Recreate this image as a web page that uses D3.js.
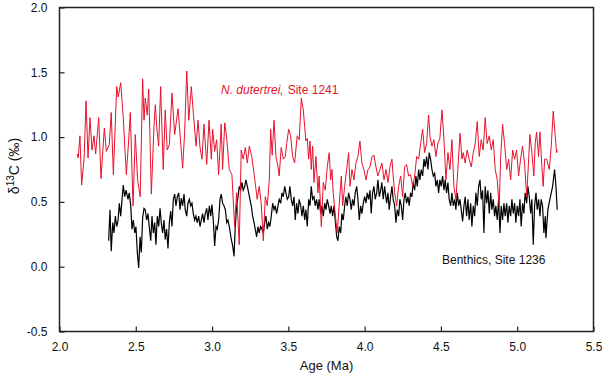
<!DOCTYPE html>
<html>
<head>
<meta charset="utf-8">
<script src="https://cdn.jsdelivr.net/npm/d3@7"></script>
<style>
  body { margin: 0; background: #fff; }
  svg text { font-family: "Liberation Sans", Arial, sans-serif; }
</style>
</head>
<body>
<div id="chart"></div>
<script>
// N. dutertrei, Site 1241 (age in Ma, d13C in permil)
const redAge = [2.115,2.123,2.134,2.145,2.161,2.174,2.187,2.200,2.213,2.226,2.237,2.257,2.272,2.294,2.307,2.326,2.339,2.353,2.375,2.385,
  2.401,2.418,2.438,2.453,2.464,2.482,2.497,2.512,2.529,2.545,2.554,2.562,2.575,2.585,2.602,2.619,2.628,2.637,2.650,2.663,
  2.680,2.693,2.706,2.720,2.737,2.755,2.777,2.807,2.820,2.834,2.847,2.864,2.877,2.895,2.908,2.921,2.934,2.947,2.965,2.980,
  2.995,3.004,3.017,3.030,3.043,3.060,3.069,3.083,3.096,3.113,3.130,3.148,3.161,3.178,3.191,3.204,3.218,3.231,3.244,3.260,
  3.275,3.296,3.309,3.322,3.336,3.349,3.362,3.375,3.384,3.394,3.406,3.419,3.432,3.440,3.453,3.467,3.480,3.489,3.502,3.515,
  3.528,3.541,3.558,3.571,3.585,3.598,3.607,3.615,3.624,3.633,3.642,3.650,3.659,3.668,3.681,3.694,3.702,3.716,3.729,3.742,
  3.755,3.768,3.777,3.786,3.794,3.807,3.820,3.834,3.847,3.856,3.869,3.882,3.895,3.904,3.917,3.930,3.943,3.956,3.969,3.982,
  3.995,4.009,4.022,4.035,4.048,4.061,4.074,4.087,4.100,4.113,4.127,4.140,4.153,4.166,4.179,4.187,4.197,4.210,4.223,4.236,
  4.249,4.262,4.275,4.288,4.301,4.315,4.328,4.341,4.354,4.367,4.380,4.393,4.406,4.419,4.428,4.441,4.454,4.467,4.480,4.493,
  4.507,4.520,4.533,4.546,4.559,4.572,4.585,4.598,4.611,4.625,4.638,4.646,4.659,4.672,4.685,4.699,4.712,4.725,4.738,4.751,
  4.764,4.777,4.790,4.803,4.817,4.830,4.843,4.856,4.869,4.882,4.891,4.904,4.917,4.931,4.944,4.957,4.970,4.983,4.996,5.009,
  5.022,5.035,5.048,5.062,5.075,5.083,5.096,5.109,5.118,5.127,5.140,5.149,5.162,5.170,5.180,5.193,5.210,5.223,5.236,5.249,
  5.258,5.262];
const redD13C = [0.87,0.84,1.01,0.63,0.83,1.28,0.84,1.15,0.90,1.01,0.87,1.15,0.68,1.07,0.89,0.94,1.19,0.71,1.39,1.31,
  1.42,1.15,0.71,0.97,1.19,0.47,1.02,0.67,0.54,1.45,1.13,1.30,1.17,1.37,0.56,1.08,1.25,1.08,0.93,1.39,
  0.75,1.21,0.90,0.94,1.34,1.02,1.22,0.76,1.03,1.51,1.13,1.39,1.19,0.93,1.13,0.92,0.83,1.10,0.79,1.13,
  0.83,1.06,0.89,0.98,0.71,1.10,0.75,1.11,0.99,0.75,0.71,0.31,0.57,0.17,0.90,0.83,0.92,0.80,0.93,0.85,
  0.72,0.52,0.62,0.49,0.20,0.54,0.47,0.67,1.06,0.86,1.13,0.85,0.77,0.70,0.92,0.83,0.85,0.95,1.06,1.01,
  0.85,0.80,1.01,0.98,1.30,1.21,1.08,0.97,0.99,0.83,0.97,0.75,0.93,0.65,0.85,0.57,0.70,0.31,0.65,0.59,
  0.77,0.88,0.67,0.75,0.57,0.41,0.26,0.49,0.70,0.47,0.62,0.75,0.88,0.62,0.75,0.67,0.80,0.85,0.97,0.80,
  0.75,0.67,0.75,0.77,0.85,0.86,0.77,0.70,0.75,0.80,0.67,0.75,0.65,0.77,0.83,0.70,0.57,0.47,0.62,0.70,
  0.54,0.77,0.79,0.70,0.71,0.62,0.70,0.85,0.83,0.95,1.06,0.88,0.95,1.17,1.01,0.93,0.98,0.85,0.95,0.99,
  1.21,0.98,0.67,0.88,0.75,0.98,0.62,0.52,0.75,1.03,0.83,0.88,0.80,0.90,0.83,0.77,0.88,0.95,1.12,0.85,
  0.98,0.90,1.15,0.95,1.01,0.90,0.98,0.75,0.67,0.47,0.83,1.10,0.95,0.75,0.83,0.67,0.90,0.83,0.90,0.70,
  0.83,0.93,0.80,0.54,0.83,1.02,0.88,0.70,0.95,1.04,0.85,1.04,0.77,0.62,0.83,0.83,0.75,0.93,1.20,1.01,
  0.88,0.90];

// Benthics, Site 1236
const benAge = [2.322,2.331,2.339,2.349,2.357,2.366,2.375,2.383,2.392,2.401,2.410,2.418,2.427,2.436,2.449,2.457,2.467,2.475,2.484,2.493,
  2.501,2.510,2.519,2.528,2.536,2.545,2.554,2.562,2.571,2.580,2.588,2.598,2.606,2.615,2.624,2.632,2.641,2.650,2.659,2.667,
  2.676,2.685,2.693,2.702,2.711,2.720,2.729,2.737,2.746,2.755,2.763,2.772,2.781,2.790,2.798,2.807,2.816,2.824,2.834,2.842,
  2.851,2.860,2.868,2.877,2.886,2.894,2.903,2.912,2.921,2.929,2.938,2.947,2.955,2.965,2.973,2.982,2.991,2.999,3.008,3.017,
  3.026,3.034,3.043,3.052,3.060,3.069,3.078,3.087,3.096,3.104,3.113,3.126,3.135,3.144,3.152,3.161,3.170,3.178,3.187,3.196,
  3.204,3.214,3.222,3.231,3.240,3.248,3.257,3.266,3.275,3.283,3.292,3.301,3.309,3.318,3.327,3.336,3.345,3.353,3.362,3.371,
  3.379,3.388,3.397,3.406,3.414,3.423,3.432,3.440,3.450,3.458,3.467,3.476,3.484,3.493,3.502,3.510,3.519,3.528,3.537,3.545,
  3.554,3.563,3.571,3.581,3.589,3.598,3.607,3.615,3.624,3.633,3.642,3.650,3.659,3.668,3.676,3.685,3.694,3.702,3.712,3.720,
  3.729,3.738,3.746,3.755,3.764,3.773,3.781,3.790,3.799,3.807,3.817,3.825,3.834,3.843,3.851,3.860,3.869,3.877,3.886,3.895,
  3.904,3.912,3.921,3.930,3.938,3.948,3.956,3.965,3.974,3.982,3.991,4.000,4.009,4.017,4.026,4.035,4.043,4.052,4.061,4.069,
  4.079,4.087,4.096,4.105,4.113,4.122,4.131,4.144,4.153,4.161,4.170,4.179,4.187,4.197,4.205,4.214,4.223,4.231,4.240,4.249,
  4.258,4.266,4.275,4.284,4.292,4.301,4.310,4.318,4.328,4.336,4.345,4.354,4.362,4.371,4.380,4.389,4.397,4.406,4.415,4.423,
  4.432,4.441,4.450,4.459,4.467,4.476,4.485,4.493,4.502,4.511,4.520,4.528,4.537,4.546,4.554,4.564,4.572,4.581,4.590,4.598,
  4.607,4.616,4.625,4.633,4.642,4.651,4.659,4.668,4.677,4.685,4.695,4.703,4.712,4.721,4.729,4.738,4.747,4.756,4.764,4.773,
  4.782,4.790,4.800,4.808,4.817,4.826,4.834,4.843,4.852,4.860,4.869,4.878,4.887,4.895,4.904,4.913,4.921,4.931,4.939,4.948,
  4.957,4.965,4.974,4.983,4.991,5.000,5.009,5.018,5.026,5.035,5.044,5.052,5.062,5.070,5.079,5.088,5.096,5.105,5.114,5.123,
  5.131,5.140,5.149,5.157,5.166,5.175,5.184,5.188,5.201,5.214,5.232,5.245,5.254,5.262];
const benD13C = [0.20,0.44,0.12,0.34,0.26,0.39,0.31,0.35,0.49,0.39,0.52,0.63,0.54,0.59,0.52,0.57,0.47,0.29,0.36,0.26,
  0.31,0.11,-0.01,0.23,0.11,0.38,0.45,0.44,0.36,0.41,0.31,0.20,0.39,0.26,0.34,0.17,0.39,0.31,0.45,0.34,
  0.26,0.36,0.21,0.29,0.14,0.34,0.43,0.31,0.52,0.56,0.47,0.54,0.57,0.44,0.53,0.47,0.56,0.44,0.39,0.49,
  0.52,0.47,0.49,0.41,0.36,0.39,0.34,0.39,0.31,0.36,0.41,0.34,0.41,0.45,0.36,0.47,0.39,0.48,0.36,0.16,
  0.31,0.29,0.36,0.52,0.56,0.49,0.47,0.44,0.34,0.36,0.31,0.21,0.16,0.08,0.31,0.47,0.54,0.62,0.59,0.65,
  0.59,0.62,0.67,0.62,0.57,0.52,0.47,0.39,0.34,0.29,0.23,0.31,0.26,0.31,0.29,0.26,0.34,0.39,0.29,0.34,
  0.31,0.39,0.49,0.44,0.47,0.41,0.47,0.52,0.49,0.57,0.54,0.62,0.57,0.52,0.54,0.62,0.52,0.47,0.54,0.36,
  0.49,0.41,0.52,0.47,0.39,0.47,0.36,0.44,0.31,0.52,0.47,0.62,0.52,0.54,0.47,0.52,0.44,0.52,0.41,0.47,
  0.39,0.49,0.44,0.52,0.47,0.41,0.47,0.39,0.47,0.36,0.23,0.20,0.31,0.26,0.41,0.36,0.47,0.54,0.47,0.57,
  0.52,0.44,0.52,0.47,0.57,0.62,0.52,0.36,0.47,0.41,0.49,0.54,0.49,0.57,0.52,0.59,0.41,0.57,0.62,0.52,
  0.57,0.67,0.54,0.59,0.65,0.52,0.62,0.49,0.57,0.44,0.54,0.62,0.52,0.47,0.34,0.44,0.39,0.52,0.47,0.36,
  0.52,0.57,0.49,0.54,0.47,0.57,0.54,0.65,0.59,0.70,0.62,0.75,0.67,0.75,0.70,0.83,0.77,0.85,0.75,0.88,
  0.83,0.75,0.70,0.72,0.62,0.67,0.57,0.67,0.62,0.70,0.59,0.67,0.57,0.65,0.52,0.47,0.57,0.47,0.52,0.44,
  0.57,0.47,0.52,0.44,0.35,0.47,0.54,0.39,0.52,0.36,0.49,0.31,0.47,0.39,0.57,0.47,0.62,0.67,0.52,0.59,
  0.26,0.62,0.49,0.59,0.41,0.57,0.44,0.52,0.39,0.47,0.36,0.52,0.26,0.47,0.36,0.49,0.39,0.49,0.34,0.47,
  0.39,0.52,0.41,0.49,0.34,0.47,0.39,0.52,0.31,0.49,0.41,0.57,0.49,0.62,0.54,0.41,0.52,0.17,0.47,0.57,
  0.44,0.52,0.39,0.52,0.47,0.26,0.39,0.22,0.44,0.52,0.62,0.75,0.62,0.44];

const xTicks = [2.0, 2.5, 3.0, 3.5, 4.0, 4.5, 5.0, 5.5];
const yTicks = [-0.5, 0.0, 0.5, 1.0, 1.5, 2.0];

const width = 602, height = 378;
const margin = {top: 7.5, right: 8.5, bottom: 46.5, left: 59.5};
const red = "#e8112d";

const svg = d3.select("#chart").append("svg")
  .attr("width", width)
  .attr("height", height);

const x = d3.scaleLinear().domain([2.0, 5.5]).range([margin.left, width - margin.right]);
const y = d3.scaleLinear().domain([-0.5, 2.0]).range([height - margin.bottom, margin.top]);

const fmt = d => d.toFixed(1); // plain hyphen for negatives

// axes, ticks pointing inward
const xAxis = svg.append("g")
  .attr("transform", `translate(0,${height - margin.bottom})`)
  .call(d3.axisBottom(x).tickValues(xTicks).tickFormat(fmt).tickSize(-5).tickPadding(11));
const yAxis = svg.append("g")
  .attr("transform", `translate(${margin.left},0)`)
  .call(d3.axisLeft(y).tickValues(yTicks).tickFormat(fmt).tickSize(-5).tickPadding(12));

[xAxis, yAxis].forEach(g => {
  g.select(".domain").remove();
  g.selectAll("line").attr("stroke", "#222").attr("stroke-width", 1.2);
  g.selectAll("text").attr("font-size", 12).attr("fill", "#111")
    .attr("font-family", "Liberation Sans, Arial, sans-serif");
});

const line = d3.line().x(d => x(d[0])).y(d => y(d[1]));

svg.append("path")
  .datum(benAge.map((a, i) => [a, benD13C[i]]))
  .attr("fill", "none")
  .attr("stroke", "#000")
  .attr("stroke-width", 1.2)
  .attr("d", line);

svg.append("path")
  .datum(redAge.map((a, i) => [a, redD13C[i]]))
  .attr("fill", "none")
  .attr("stroke", red)
  .attr("stroke-width", 1)
  .attr("d", line);

// frame
svg.append("rect")
  .attr("x", margin.left)
  .attr("y", margin.top)
  .attr("width", width - margin.left - margin.right)
  .attr("height", height - margin.top - margin.bottom)
  .attr("fill", "none")
  .attr("stroke", "#222")
  .attr("stroke-width", 1.5);

// axis titles
svg.append("text")
  .attr("x", (margin.left + width - margin.right) / 2)
  .attr("y", 370)
  .attr("text-anchor", "middle")
  .attr("font-size", 13)
  .attr("fill", "#111")
  .text("Age (Ma)");

const yt = svg.append("text")
  .attr("transform", "translate(19,166) rotate(-90)")
  .attr("text-anchor", "middle")
  .attr("font-size", 14)
  .attr("fill", "#111");
yt.append("tspan").text("δ");
yt.append("tspan").attr("font-size", 10).attr("dy", -5).text("13");
yt.append("tspan").attr("dy", 5).text("C (‰)");

// series labels
const rl = svg.append("text")
  .attr("x", 221)
  .attr("y", 94)
  .attr("font-size", 12)
  .attr("fill", red);
rl.append("tspan").attr("font-style", "italic").text("N. dutertrei,");
rl.append("tspan").attr("dx", 4).text("Site 1241");

svg.append("text")
  .attr("x", 442)
  .attr("y", 264)
  .attr("font-size", 12)
  .attr("fill", "#111")
  .text("Benthics, Site 1236");
</script>
</body>
</html>
